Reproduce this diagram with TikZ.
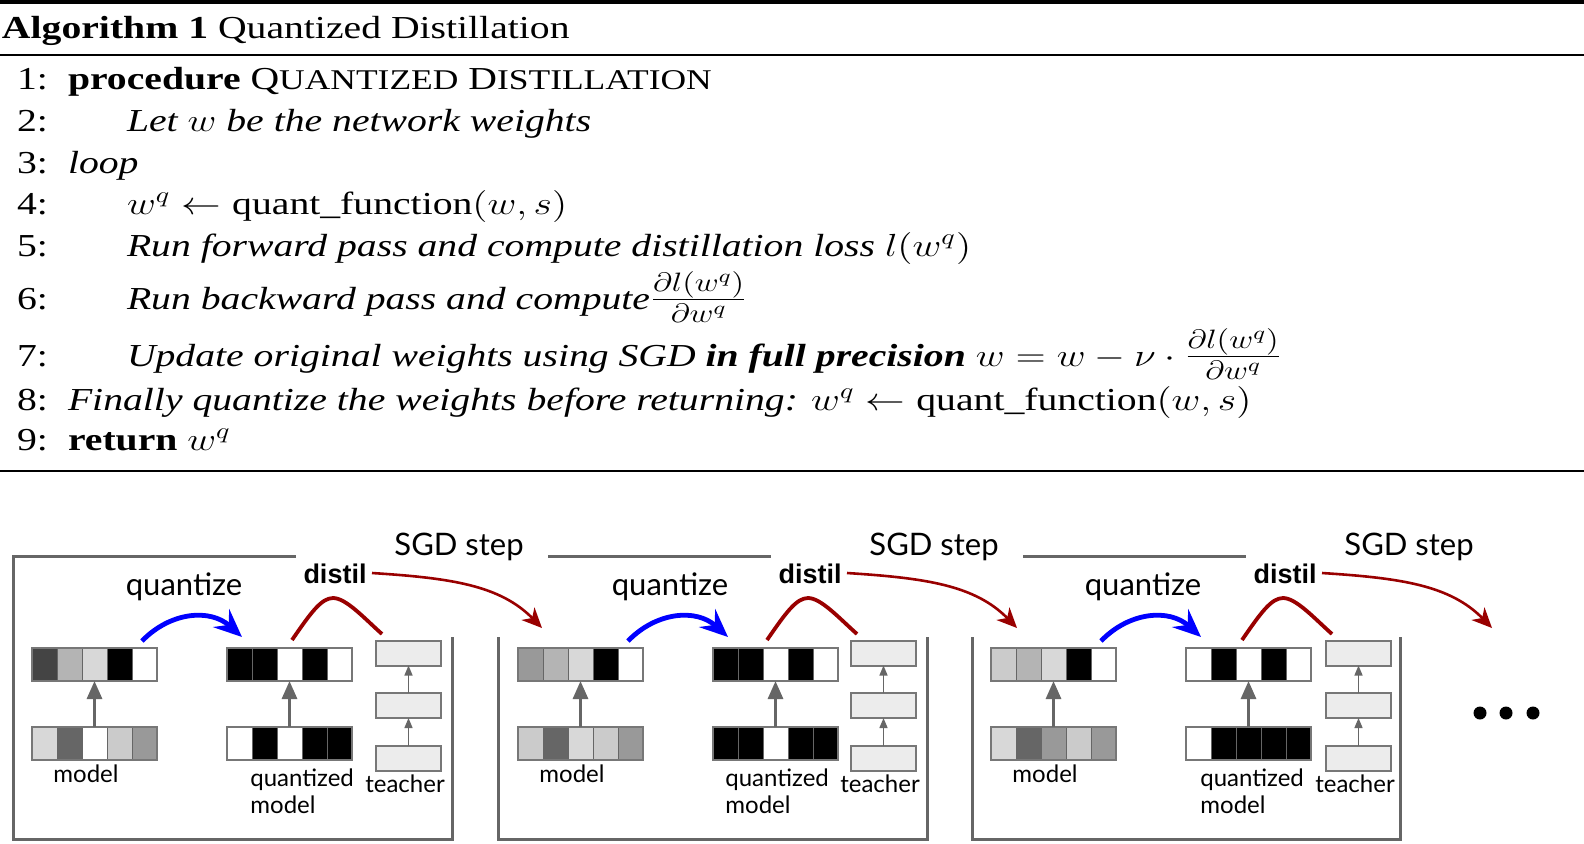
\documentclass[tikz,border=0pt]{standalone}
\usepackage{fix-cm}
\usepackage{fontspec}
\setmainfont{Liberation Serif}
\newfontfamily\latofont{Lato}
\newfontfamily\arialfont{Liberation Sans}
\usetikzlibrary{arrows.meta,calc}
\definecolor{gA}{HTML}{444444}
\definecolor{gB}{HTML}{B4B4B4}
\definecolor{gC}{HTML}{CBCBCB}
\definecolor{gD}{HTML}{D8D8D8}
\definecolor{gE}{HTML}{999999}
\definecolor{gF}{HTML}{666666}
\definecolor{blueA}{HTML}{0000FF}
\definecolor{redA}{HTML}{990000}
\definecolor{lineG}{HTML}{666666}
\definecolor{rowB}{HTML}{777777}
\definecolor{tfill}{HTML}{ECECEC}
\newcommand\algfont{\fontsize{16}{19}\selectfont}
\newcommand\smc{\fontsize{14.3}{16}\selectfont}
\newcommand\bigfr[1]{{\fontsize{19}{21}\selectfont$#1$}}
\tikzset{
  alg/.style={font=\algfont, xscale=1.24, inner sep=0pt, outer sep=0pt},
  rule/.style={line width=1pt, black},
  rowbox/.style={draw=rowB, line width=0.6pt, minimum width=62.5pt, minimum height=16.5pt, inner sep=0pt, outer sep=0pt},
  cellsep/.style={draw=gF, line width=0.3pt},
  tbox/.style={draw=rowB, fill=tfill, line width=1pt, minimum width=32.5pt, minimum height=12.5pt, inner sep=0pt, outer sep=0pt},
  bigarrow/.style={draw=gF, line width=1.5pt, -{Triangle[length=9pt,width=7.5pt]}},
  smallarrow/.style={draw=gF, line width=0.7pt, -{Triangle[length=5pt,width=4pt]}},
  frame/.style={draw=lineG, line width=1.5pt},
  lbl/.style={font=\latofont\fontsize{12}{14}\selectfont, inner sep=0pt},
  qlbl/.style={font=\latofont\fontsize{15.5}{18}\selectfont, inner sep=0pt},
  dlbl/.style={font=\arialfont\bfseries\fontsize{13.5}{16}\selectfont, inner sep=0pt},
  bluearrow/.style={draw=blueA, line width=2.4pt, -{Stealth[length=14pt,width=12pt,inset=5pt]}},
  hump/.style={draw=redA, line width=1.9pt},
  redarrow/.style={draw=redA, line width=1.3pt, -{Stealth[length=10pt,width=9pt,inset=3pt]}},
  dot/.style={circle, fill=black, minimum size=6.5pt, inner sep=0pt},
}
\newcommand\wrow[4]{%
  \foreach \cc [count=\ii from 0] in {#4} {
    \fill[\cc] ({#2+25*\ii},#3) rectangle ({#2+25*\ii+25},{#3+33});
  }
  \foreach \ii in {1,...,4} {\draw[cellsep] ({#2+25*\ii},#3) -- ({#2+25*\ii},{#3+33});}
  \node[rowbox, anchor=north west] (#1) at (#2,#3) {};
}
\newcommand\qdpanel[7]{%
  \begin{scope}[xshift={#2*0.5pt}]
    \wrow{mt#1}{32}{648}{#4}
    \wrow{mb#1}{32}{727}{#5}
    \wrow{qt#1}{227}{648}{#6}
    \wrow{qb#1}{227}{727}{#7}
    \draw[bigarrow] (mb#1.north) -- (mt#1.south);
    \draw[bigarrow] (qb#1.north) -- (qt#1.south);
    \node[lbl, anchor=base] (ml#1) at (86,782) {model};
    \node[qlbl, anchor=base] (qz#1) at (184,595) {quantize};
    \coordinate (bs#1) at (142,641);
    \coordinate (be#1) at (242,637);
    \draw[bluearrow] (bs#1) .. controls (170,612) and (210,608) .. (be#1);
  \end{scope}
  \begin{scope}[xshift={#3*0.5pt}]
    \node[tbox] (ta#1) at (408.5,653) {};
    \node[tbox] (tb#1) at (408.5,705.5) {};
    \node[tbox] (tc#1) at (408.5,758.5) {};
    \draw[smallarrow] (tc#1.north) -- (tb#1.south);
    \draw[smallarrow] (tb#1.north) -- (ta#1.south);
    \node[lbl, anchor=base] (tl#1) at (405,792) {teacher};
    \node[lbl, anchor=base west] (qla#1) at (250,786) {quantized};
    \node[lbl, anchor=base west] (qlb#1) at (250,813) {model};
    \node[dlbl, anchor=base] (dl#1) at (335,583) {distil};
    \node[qlbl, anchor=base] (sg#1) at (459,555) {SGD step};
    \coordinate (hs#1) at (292,640);
    \coordinate (he#1) at (382,634);
    \draw[hump] (hs#1) .. controls (310,614) and (321,598) .. (333,598) .. controls (346,598) and (364,618) .. (he#1);
    \coordinate (ds#1) at (372,573);
    \coordinate (de#1) at (542,628);
    \draw[redarrow] (ds#1) .. controls (450,578) and (500,585) .. (de#1);
  \end{scope}
}
\begin{document}
\begin{tikzpicture}[x=0.5pt, y=-0.5pt]
\useasboundingbox (0,0) rectangle (1584,843);
\fill[white] (0,0) rectangle (1584,843);
% ---------- algorithm ----------
\coordinate (r0a) at (0,2);   \coordinate (r0b) at (1584,2);
\coordinate (r1a) at (0,55);  \coordinate (r1b) at (1584,55);
\coordinate (r2a) at (0,471); \coordinate (r2b) at (1584,471);
\draw[rule, line width=1.6pt] (r0a) -- (r0b);
\draw[rule] (r1a) -- (r1b);
\draw[rule] (r2a) -- (r2b);
\node[alg, anchor=base west] (hdr) at (2,38) {\textbf{Algorithm 1} Quantized Distillation};
\foreach \n/\y in {1/89,2/131,3/173,4/214,5/256,6/309,7/366,8/410,9/450}{
  \node[alg, anchor=base east] (n\n) at (48,\y) {\n:};
}
\node[alg, anchor=base west] (l1) at (68,89) {\textbf{procedure} Q{\smc UANTIZED} D{\smc ISTILLATION}};
\node[alg, anchor=base west] (l2) at (127,131) {\textit{Let $w$ be the network weights}};
\node[alg, anchor=base west] (l3) at (68,173) {\textit{loop}};
\node[alg, anchor=base west] (l4) at (127,214) {$w^q \leftarrow \mathrm{quant\_function}(w,s)$};
\node[alg, anchor=base west] (l5) at (127,256) {\textit{Run forward pass and compute distillation loss} $l(w^q)$};
\node[alg, anchor=base west] (l6) at (127,309) {\textit{Run backward pass and compute}\bigfr{\frac{\partial l(w^q)}{\partial w^q}}};
\node[alg, anchor=base west] (l7) at (127,366) {\textit{Update original weights using SGD \textbf{in full precision}} $w = w - \nu\cdot{}$\bigfr{\frac{\partial l(w^q)}{\partial w^q}}};
\node[alg, anchor=base west] (l8) at (68,410) {\textit{Finally quantize the weights before returning:} $w^q \leftarrow \mathrm{quant\_function}(w,s)$};
\node[alg, anchor=base west] (l9) at (68,450) {\textbf{return} $w^q$};
% ---------- diagram ----------
\qdpanel{1}{0}{0}{gA,gB,gD,black,white}{gD,gF,white,gC,gE}{black,black,white,black,white}{white,black,white,black,black}
\qdpanel{2}{486}{475}{gE,gB,gD,black,white}{gC,gF,gD,gC,gE}{black,black,white,black,white}{black,black,white,black,black}
\qdpanel{3}{959}{950}{gC,gB,gD,black,white}{gD,gF,gE,gC,gE}{white,black,white,black,white}{white,black,black,black,black}
% frames
\draw[frame] (296,556) -- (13,556) -- (13,839) -- (452,839) -- (452,637);
\draw[frame] (498,637) -- (498,839) -- (927,839) -- (927,637);
\draw[frame] (548,556) -- (771,556);
\draw[frame] (972,637) -- (972,839) -- (1400,839) -- (1400,637);
\draw[frame] (1023,556) -- (1246,556);
% ellipsis
\node[dot] (e1) at (1480,713) {};
\node[dot] (e2) at (1506,713) {};
\node[dot] (e3) at (1533,713) {};
\end{tikzpicture}
\end{document}
